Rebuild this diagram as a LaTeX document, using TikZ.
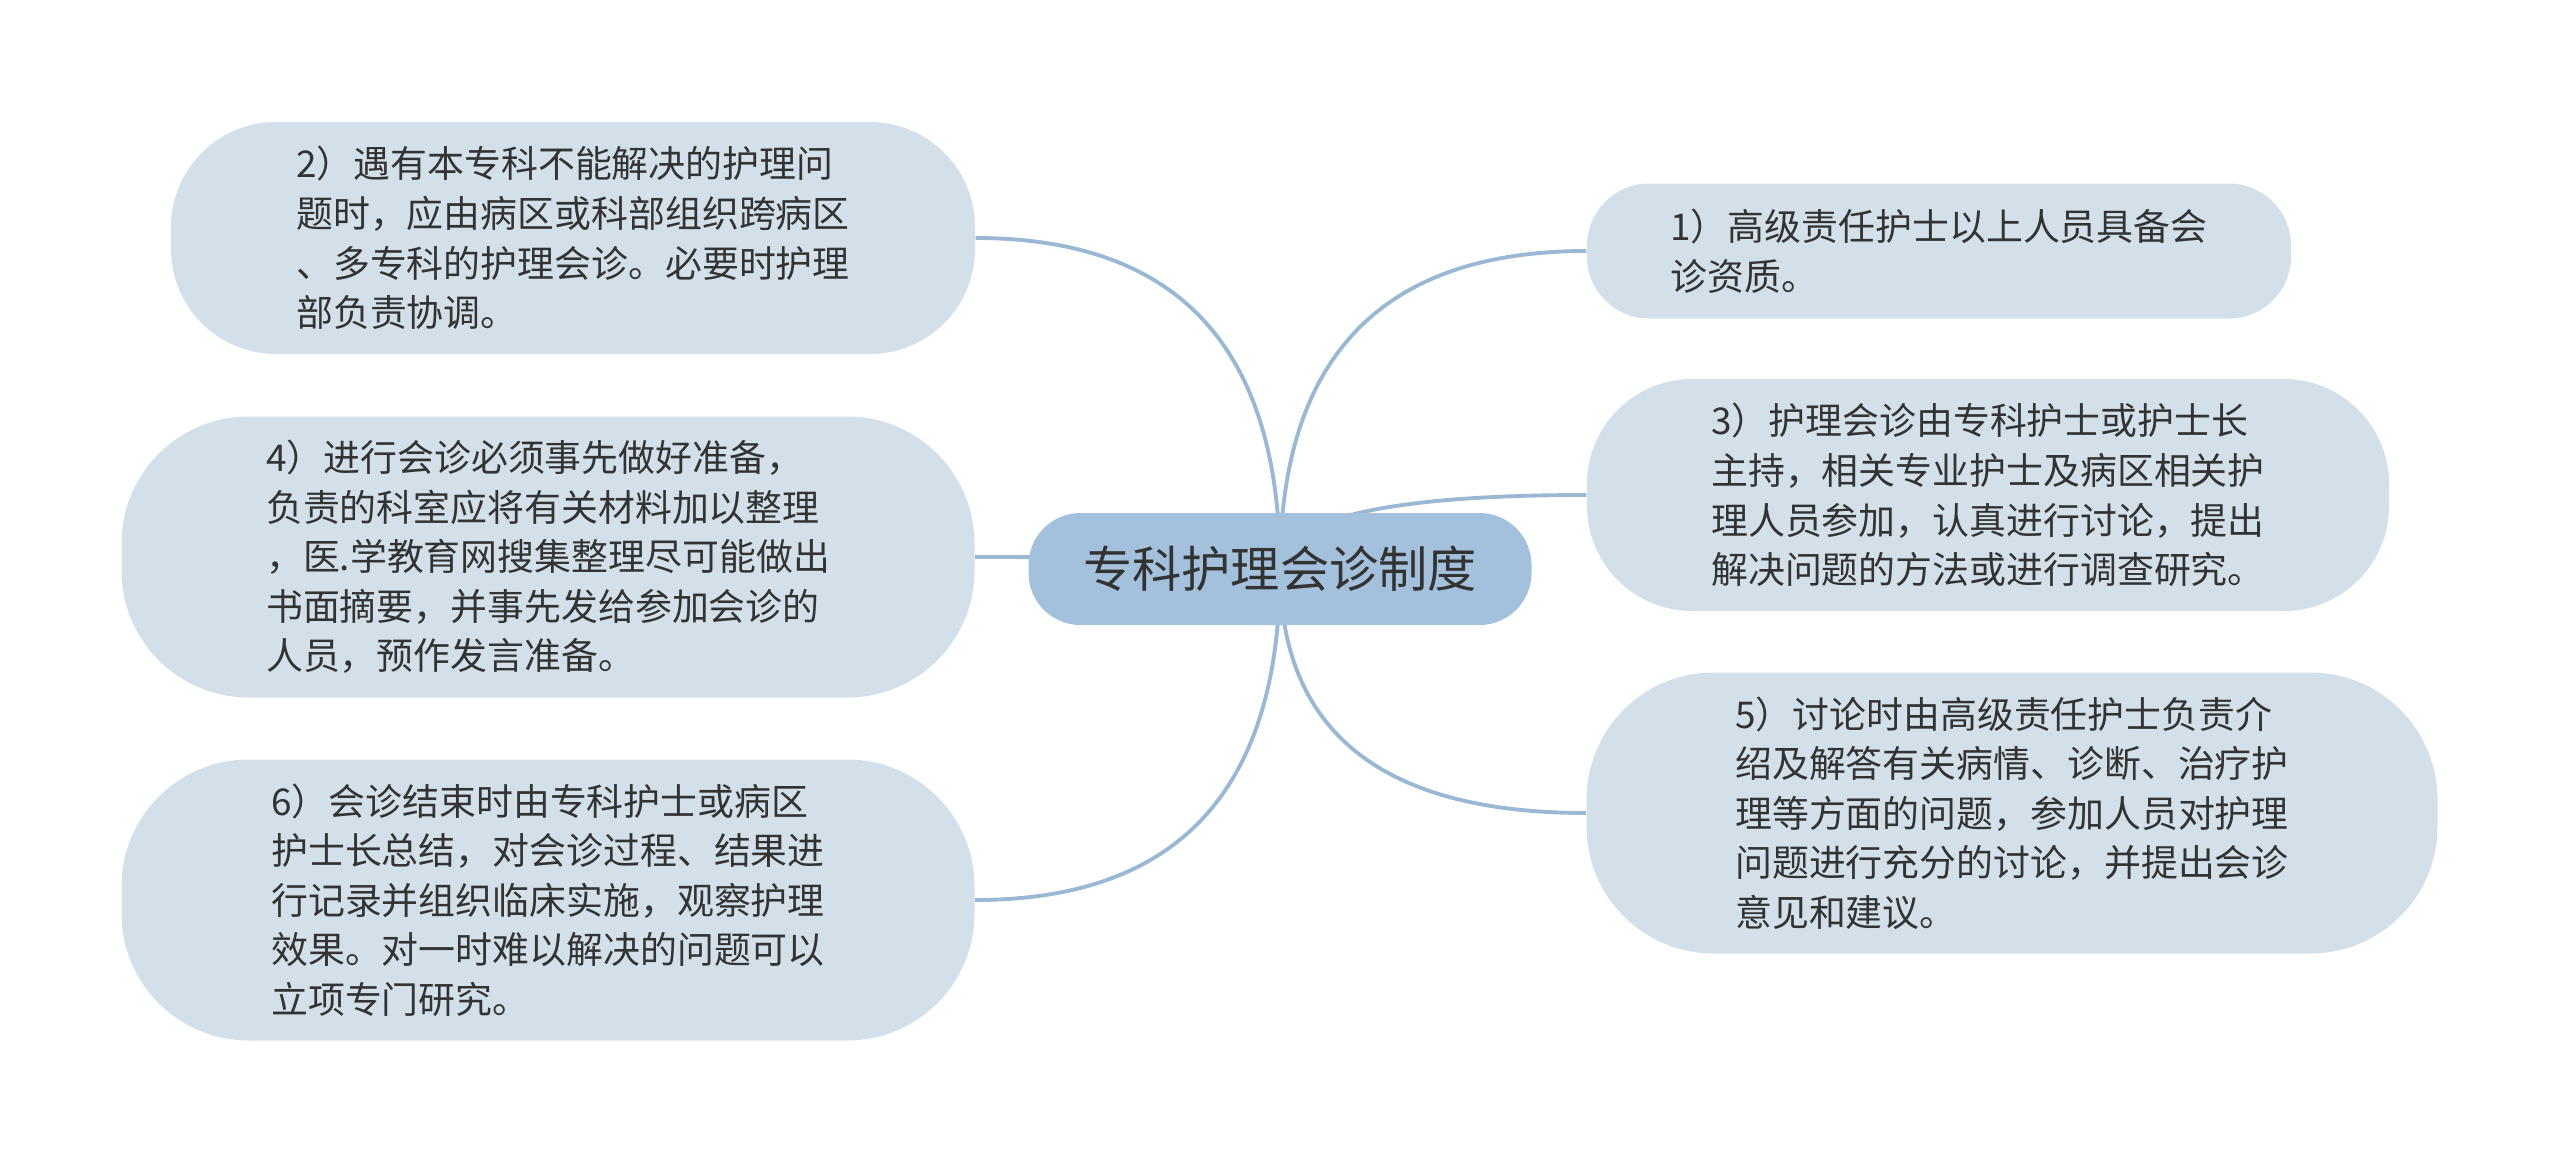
\documentclass[tikz,border=0pt]{standalone}
\usepackage{fontspec}
\setmainfont{Noto Sans CJK SC}
\usepackage{xcolor}
\usetikzlibrary{calc,backgrounds}

\definecolor{rootblue}{HTML}{A3C0DC}
\definecolor{leafblue}{HTML}{D4E0E9}
\definecolor{linkblue}{HTML}{9AB8D4}
\definecolor{textgray}{HTML}{333333}

\tikzset{
  root/.style={fill=rootblue, text=textgray, rounded corners=0.52cm,
    minimum width=5.03cm, minimum height=1.12cm, font=\fontsize{14}{17}\selectfont},
  leaf/.style={fill=leafblue, text=textgray, align=left, inner sep=0pt,
    font=\fontsize{10.5}{14.1}\selectfont},
  link/.style={draw=linkblue, line width=1.1pt}
}

\begin{document}
\begin{tikzpicture}
\useasboundingbox (0,0) rectangle (25.6,11.62);
% Centre
\node[root] (root) at (12.80,5.93) {专科护理会诊制度};
% Left branches
\node[leaf, minimum width=8.04cm, minimum height=2.32cm, rounded corners=1.05cm] (n2) at (5.73,9.24)
  {2）遇有本专科不能解决的护理问\\题时，应由病区或科部组织跨病区\\、多专科的护理会诊。必要时护理\\部负责协调。};
\node[leaf, minimum width=8.53cm, minimum height=2.81cm, rounded corners=1.27cm] (n4) at (5.48,6.05)
  {4）进行会诊必须事先做好准备，\\负责的科室应将有关材料加以整理\\，医.学教育网搜集整理尽可能做出\\书面摘要，并事先发给参加会诊的\\人员，预作发言准备。};
\node[leaf, minimum width=8.53cm, minimum height=2.81cm, rounded corners=1.27cm] (n6) at (5.48,2.62)
  {6）会诊结束时由专科护士或病区\\护士长总结，对会诊过程、结果进\\行记录并组织临床实施，观察护理\\效果。对一时难以解决的问题可以\\立项专门研究。};
% Right branches
\node[leaf, minimum width=7.04cm, minimum height=1.35cm, rounded corners=0.62cm] (n1) at (19.39,9.11)
  {1）高级责任护士以上人员具备会\\诊资质。};
\node[leaf, minimum width=8.02cm, minimum height=2.32cm, rounded corners=1.05cm] (n3) at (19.88,6.67)
  {3）护理会诊由专科护士或护士长\\主持，相关专业护士及病区相关护\\理人员参加，认真进行讨论，提出\\解决问题的方法或进行调查研究。};
\node[leaf, minimum width=8.51cm, minimum height=2.81cm, rounded corners=1.27cm] (n5) at (20.12,3.49)
  {5）讨论时由高级责任护士负责介\\绍及解答有关病情、诊断、治疗护\\理等方面的问题，参加人员对护理\\问题进行充分的讨论，并提出会诊\\意见和建议。};
% Connectors
\begin{scope}[on background layer]
\foreach \leaf/\side in {n2/east,n4/east,n6/east,n1/west,n3/west,n5/west}
  \draw[link] (root.center)
    .. controls ($(root.center)!0.667!(root.center |- \leaf.\side)$)
    and ($(\leaf.\side)!0.667!(root.center |- \leaf.\side)$) .. (\leaf.\side);
\end{scope}
\end{tikzpicture}
\end{document}
